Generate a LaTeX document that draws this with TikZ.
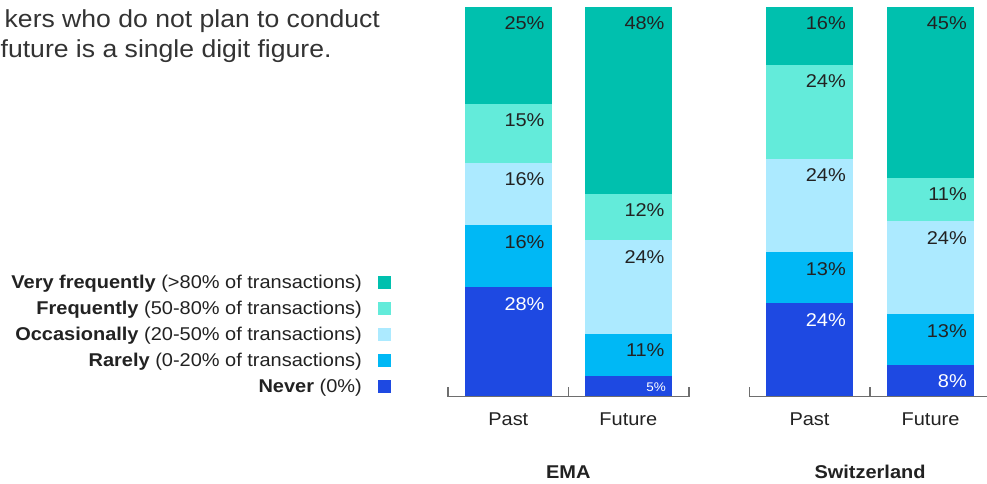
\documentclass[tikz,border=0pt]{standalone}
\usepackage{fontspec}
\setmainfont{Liberation Sans}[FakeStretch=1.08]
\definecolor{vfreq}{HTML}{00C0AE}
\definecolor{freq}{HTML}{63EBDA}
\definecolor{occ}{HTML}{ACEAFF}
\definecolor{rare}{HTML}{00B8F5}
\definecolor{never}{HTML}{1E49E2}
\definecolor{txt}{HTML}{222222}
\definecolor{introtxt}{HTML}{333333}
\definecolor{axisgray}{HTML}{6E6E6E}
\newcommand{\barseg}[8]{%
  \fill[#6] (#2,#4) rectangle (#3,#5);
  \node[pct, text=#8, anchor=base east] (#1) at (#3-7,#4+23) {#7};
}
\tikzset{
  pct/.style={font=\fontsize{18.5}{22}\selectfont, inner sep=0pt},
  axlab/.style={font=\fontsize{18.5}{22}\selectfont, text=txt, inner sep=0pt, anchor=base},
  grplab/.style={font=\bfseries\fontsize{18.5}{22}\selectfont, text=txt, inner sep=0pt, anchor=base},
  leg/.style={font=\fontsize{18.5}{22}\selectfont, text=txt, inner sep=0pt, anchor=base east},
  intro/.style={font=\fontsize{24.6}{30}\selectfont, text=introtxt, inner sep=0pt, anchor=base west},
  axisline/.style={draw=axisgray, line width=1.4pt},
}
\begin{document}
\begin{tikzpicture}[x=1pt,y=-1pt]
\useasboundingbox (0,0) rectangle (987,484);
\fill[white] (0,0) rectangle (987,484);

% intro text
\node[intro] (intro1) at (4.5,27.3) {kers who do not plan to conduct};
\node[intro] (intro2) at (0.5,57.3) {future is a single digit figure.};

% legend
\foreach \k/\b/\r/\c in {0/Very frequently/(>80\% of transactions)/vfreq,
                         1/Frequently/(50-80\% of transactions)/freq,
                         2/Occasionally/(20-50\% of transactions)/occ,
                         3/Rarely/(0-20\% of transactions)/rare,
                         4/Never/(0\%)/never}{
  \node[leg] (leg\k) at (362,288.3+26*\k) {\textbf{\b} \r};
  \fill[\c] (378,276+26*\k) rectangle (391,288.5+26*\k);
}

% EMA past
\barseg{ep1}{465}{551.7}{7}{104}{vfreq}{25\%}{txt}
\barseg{ep2}{465}{551.7}{104}{162.7}{freq}{15\%}{txt}
\barseg{ep3}{465}{551.7}{162.7}{225}{occ}{16\%}{txt}
\barseg{ep4}{465}{551.7}{225}{287}{rare}{16\%}{txt}
\barseg{ep5}{465}{551.7}{287}{396}{never}{28\%}{white}
% EMA future
\barseg{ef1}{585}{671.7}{7}{193.7}{vfreq}{48\%}{txt}
\barseg{ef2}{585}{671.7}{193.7}{240.4}{freq}{12\%}{txt}
\barseg{ef3}{585}{671.7}{240.4}{333.9}{occ}{24\%}{txt}
\barseg{ef4}{585}{671.7}{333.9}{376.2}{rare}{11\%}{txt}
\fill[never] (585,376.2) rectangle (671.7,396);
\node[inner sep=0pt, anchor=base east, text=white, font=\fontsize{12.5}{15}\selectfont] (ef5) at (666,391.7) {5\%};
% Switzerland past
\barseg{sp1}{766}{853}{7}{65}{vfreq}{16\%}{txt}
\barseg{sp2}{766}{853}{65}{158.7}{freq}{24\%}{txt}
\barseg{sp3}{766}{853}{158.7}{252}{occ}{24\%}{txt}
\barseg{sp4}{766}{853}{252}{303}{rare}{13\%}{txt}
\barseg{sp5}{766}{853}{303}{396}{never}{24\%}{white}
% Switzerland future
\barseg{sf1}{887}{974}{7}{177.7}{vfreq}{45\%}{txt}
\barseg{sf2}{887}{974}{177.7}{221}{freq}{11\%}{txt}
\barseg{sf3}{887}{974}{221}{314}{occ}{24\%}{txt}
\barseg{sf4}{887}{974}{314}{364.7}{rare}{13\%}{txt}
\barseg{sf5}{887}{974}{364.7}{396}{never}{8\%}{white}

% axes
\draw[axisline] (448,387) -- (448,396.3) -- (689,396.3) -- (689,387);
\draw[axisline] (568.3,387) -- (568.3,396.3);
\draw[axisline] (749.5,387) -- (749.5,396.3) -- (992,396.3);
\draw[axisline] (870,387) -- (870,396.3);

% axis labels
\node[axlab] (pastE) at (508.3,425) {Past};
\node[axlab] (futE) at (628.3,425) {Future};
\node[axlab] (pastS) at (809.5,425) {Past};
\node[axlab] (futS) at (930.5,425) {Future};
\node[grplab] (ema) at (568.3,478.3) {EMA};
\node[grplab] (sw) at (870,478.3) {Switzerland};
\end{tikzpicture}
\end{document}
